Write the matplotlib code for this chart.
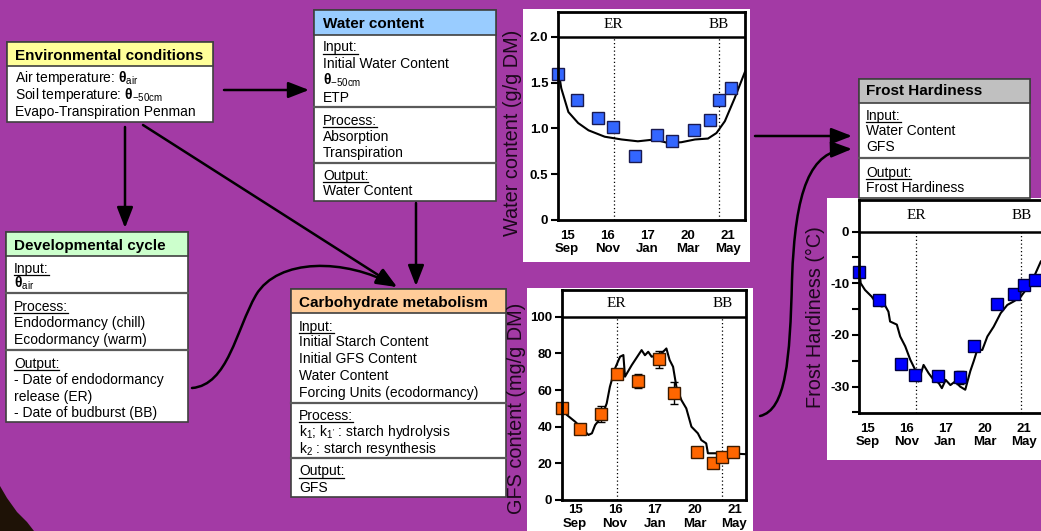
import matplotlib
matplotlib.use('Agg')
import matplotlib.pyplot as plt
from matplotlib.patches import Rectangle, FancyArrowPatch, Polygon
from matplotlib.path import Path

plt.rcParams['font.family'] = ['Liberation Sans', 'DejaVu Sans']
plt.rcParams['mathtext.fontset'] = 'custom'
plt.rcParams['mathtext.rm'] = 'Liberation Sans'
plt.rcParams['mathtext.it'] = 'Liberation Sans:italic'
plt.rcParams['mathtext.bf'] = 'Liberation Sans:bold'

W, H = 1041, 531
BG = '#a33aa5'

# ****Data (x = days since 1 Sep)****
tick_days = [14, 76, 138, 200, 262]
tick_labels = ['15\nSep', '16\nNov', '17\nJan', '20\nMar', '21\nMay']

water_obs_day = [0.5, 30, 62, 85, 119, 152, 175, 210, 234, 248, 266]
water_obs = [1.60, 1.31, 1.11, 1.02, 0.70, 0.93, 0.86, 0.98, 1.09, 1.31, 1.44]
water_sim_day = [0, 5, 16, 31, 47, 72, 98, 123, 149, 170, 190, 211, 231, 244, 257, 272, 283, 288]
water_sim = [1.67, 1.44, 1.18, 1.06, 0.98, 0.91, 0.88, 0.86, 0.88, 0.84, 0.85, 0.88, 0.89, 0.95,
             1.08, 1.33, 1.53, 1.62]
water_er, water_bb = 86, 248

gfs_obs_day = [-6.6, 21.8, 54.3, 78.6, 112, 144.7, 168, 203.6, 229, 243, 259.4]
gfs_obs = [50.0, 38.5, 46.9, 68.6, 64.9, 76.7, 58.2, 26.4, 20.0, 23.3, 26.4]
gfs_err = [0, 0, 4.5, 0, 4, 4.8, 6, 0, 0, 0, 0]
gfs_sim_day = [-6.6, 1, 14, 27, 34.6, 40, 45, 55.4, 63, 68, 76, 83.8, 89, 91.5, 102, 117.4, 122.6,
               127.7, 133, 143, 151, 156, 161, 166.4, 171.6, 179.4, 187, 195, 205, 210.4, 218,
               220.7, 230, 250, 280]
gfs_sim = [50, 46.4, 42.7, 38.2, 35.5, 36.4, 40.9, 45.5, 52.7, 61.8, 71.8, 78.2, 79.1, 67.3, 73.6,
           81.8, 79, 80.9, 78.2, 79.1, 80.9, 82.7, 76.4, 72.7, 61.8, 54.5, 50, 40, 36.4, 32.7, 30.9,
           25.5, 25.5, 25.5, 25]
gfs_er, gfs_bb = 78.6, 243

frost_obs_day = [1.3, 32, 66.5, 90, 126, 160, 183.6, 220, 246.7, 261.5, 279.5]
frost_obs = [-7.9, -13.3, -25.6, -27.7, -27.9, -28.2, -22.1, -14.0, -12.1, -10.4, -9.3]
frost_err = [0, 0, 0, 0, 0, 1.3, 0, 0, 0, 0, 0]
frost_sim_day = [1.3, 3.5, 10.3, 21, 30, 37, 42, 47.4, 50, 60.7, 66, 74, 82, 90, 95, 103, 111, 119,
                 127, 132, 138, 145.5, 153, 161, 169, 177, 182.6, 188, 196, 204, 214, 225, 235.6,
                 246, 256.8, 267.4, 278, 288.6]
frost_sim = [-7.4, -10, -11.3, -12.6, -14.2, -14.5, -14.3, -15.5, -17.4, -18, -20.3, -22.2, -24.8,
             -26.8, -29, -25.8, -27.4, -28.7, -29.3, -30.3, -28.7, -29.7, -29, -30, -30.6, -27,
             -25, -22.9, -22.9, -20.3, -18.4, -15.8, -14.2, -13.5, -12.6, -10.9, -8.7, -5.8]
frost_er, frost_bb = 91, 258

fig = plt.figure(figsize=(W / 100, H / 100), dpi=100)
fig.patch.set_facecolor(BG)
bg = fig.add_axes([0, 0, 1, 1])
bg.set_xlim(0, W)
bg.set_ylim(H, 0)
bg.axis('off')

# dark corner bottom left
bg.add_patch(Polygon([(0, 486), (7, 498), (17, 512), (27, 522), (34, 531), (0, 531)],
                     closed=True, fc='#1e1206', ec='none'))

underlined = []


def draw_box(x0, x1, y0, y1, yh, color, title, title_y, tx, items, seps):
    bg.add_patch(Rectangle((x0, y0), x1 - x0, y1 - y0, fc='white', ec='#404040', lw=1.2, zorder=2))
    bg.add_patch(Rectangle((x0, y0), x1 - x0, yh - y0, fc=color, ec='#404040', lw=1.2, zorder=2))
    bg.text(tx, title_y + 5, title, fontsize=11, fontweight='bold', va='baseline', zorder=3)
    for s in seps:
        bg.plot([x0, x1], [s, s], color='#5a5a5a', lw=1.6, zorder=3)
    for text, y, ul in items:
        t = bg.text(tx, y + 5, text, fontsize=10, va='baseline', zorder=3)
        if ul:
            underlined.append(t)


draw_box(7, 213, 42, 122, 66, '#ffff99', 'Environmental conditions', 55, 15,
         [('Air temperature: $\\mathbf{θ}_{\\mathrm{air}}$', 77, False),
          ('Soil temperature: $\\mathbf{θ}_{\\mathrm{-50cm}}$', 94, False),
          ('Evapo-Transpiration Penman', 111, False)], [])

draw_box(314, 496, 10, 201, 35, '#99ccff', 'Water content', 23, 323,
         [('Input:', 46.5, True), ('Initial Water Content', 63, False),
          ('$\\mathbf{θ}_{\\mathrm{-50cm}}$', 80, False), ('ETP', 96.5, False),
          ('Process:', 120, True), ('Absorption', 136, False), ('Transpiration', 152, False),
          ('Output:', 175, True), ('Water Content', 190, False)], [107, 163])

draw_box(6, 188, 232, 422, 256, '#ccffcc', 'Developmental cycle', 245, 14,
         [('Input:', 267.5, True), ('$\\mathbf{θ}_{\\mathrm{air}}$', 283, False),
          ('Process:', 306, True), ('Endodormancy (chill)', 322.5, False),
          ('Ecodormancy (warm)', 339, False),
          ('Output:', 363, True), ('- Date of endodormancy', 379, False),
          ('release (ER)', 395.5, False), ('- Date of budburst (BB)', 411.5, False)], [293, 350])

draw_box(291, 506, 289, 497, 313, '#ffcc99', 'Carbohydrate metabolism', 301.5, 299,
         [('Input:', 325.5, True), ('Initial Starch Content', 341.5, False),
          ('Initial GFS Content', 358, False), ('Water Content', 375.5, False),
          ('Forcing Units (ecodormancy)', 392.5, False),
          ('Process:', 415, True), ('k$_1$; k$_{1\'}$ : starch hydrolysis', 431, False),
          ('k$_2$ : starch resynthesis', 448, False),
          ('Output:', 470.5, True), ('GFS', 486.5, False)], [403, 458])

draw_box(859, 1030, 79, 198, 103, '#c0c0c0', 'Frost Hardiness', 90, 866,
         [('Input:', 115, True), ('Water Content', 130, False), ('GFS', 146, False),
          ('Output:', 171.5, True), ('Frost Hardiness', 187.5, False)], [158])

# white panels behind charts
bg.add_patch(Rectangle((523, 9), 227, 253, fc='white', ec='none', zorder=1))
bg.add_patch(Rectangle((527, 288), 226, 250, fc='white', ec='none', zorder=1))
bg.add_patch(Rectangle((827, 198), 220, 262, fc='white', ec='none', zorder=1))

# ****Arrows****
ast = '-|>,head_length=0.9,head_width=0.35'


def arrow(p0, p1):
    bg.add_patch(FancyArrowPatch(p0, p1, arrowstyle=ast, mutation_scale=14, lw=1.8,
                                 color='black', shrinkA=0, shrinkB=0, zorder=4))


arrow((224, 90), (309, 90))
arrow((125, 127), (125, 228))
arrow((143, 125), (397, 287))
arrow((416, 203), (416, 286))
arrow((755, 136), (852, 136))

curve1 = Path([(192, 388), (228, 385), (236, 330), (256, 295), (278, 258), (345, 258), (397, 287)],
              [Path.MOVETO, Path.CURVE4, Path.CURVE4, Path.CURVE4, Path.CURVE4, Path.CURVE4, Path.CURVE4])
bg.add_patch(FancyArrowPatch(path=curve1, arrowstyle=ast, mutation_scale=14, lw=1.8,
                             color='black', zorder=4))
curve2 = Path([(760, 416), (786, 410), (790, 360), (792, 280), (795, 190), (810, 150), (852, 149)],
              [Path.MOVETO, Path.CURVE4, Path.CURVE4, Path.CURVE4, Path.CURVE4, Path.CURVE4, Path.CURVE4])
bg.add_patch(FancyArrowPatch(path=curve2, arrowstyle=ast, mutation_scale=14, lw=1.8,
                             color='black', zorder=4))


# ****Charts****
def chart(left, top, right, bottom, xlim, ylim, band, yticks, yticklabels, er, bb, xpad=7):
    ax = fig.add_axes([left / W, 1 - bottom / H, (right - left) / W, (bottom - top) / H])
    ax.set_xlim(*xlim)
    ax.set_ylim(*ylim)
    for sp in ax.spines.values():
        sp.set_linewidth(2)
    ax.axhline(band, color='black', lw=1.8)
    ax.vlines([er, bb], ylim[0], band, colors='black', linestyles=(0, (1, 2)), lw=0.9)
    yb = (band + ylim[1]) / 2
    ax.text(er, yb, 'ER', family='Liberation Serif', fontsize=11, ha='center', va='center')
    ax.text(bb, yb, 'BB', family='Liberation Serif', fontsize=11, ha='center', va='center')
    ax.set_xticks(tick_days)
    ax.set_xticklabels(tick_labels, fontweight='bold', fontsize=9.5, linespacing=1.15)
    ax.set_yticks(yticks)
    ax.set_yticklabels(yticklabels, fontweight='bold', fontsize=9.5)
    ax.tick_params(axis='x', length=0, pad=xpad)
    ax.tick_params(axis='y', length=5, width=1.5, pad=2)
    return ax


ax1 = chart(558, 12, 745, 220, (0, 288), (0, 2.273), 2.0,
            [0, 0.5, 1.0, 1.5, 2.0], ['0', '0.5', '1.0', '1.5', '2.0'], water_er, water_bb)
ax1.plot(water_sim_day, water_sim, color='black', lw=1.5, clip_on=True)
ax1.plot(water_obs_day, water_obs, 's', ms=8, mfc='#3366ff', mec='#1a1a50', mew=1, clip_on=False)

ax2 = chart(562, 290, 746, 500, (-6.6, 280), (0, 114.6), 100,
            [0, 20, 40, 60, 80, 100], ['0', '20', '40', '60', '80', '100'], gfs_er, gfs_bb, xpad=3)
ax2.plot(gfs_sim_day, gfs_sim, color='black', lw=1.5)
ax2.errorbar(gfs_obs_day, gfs_obs, yerr=gfs_err, fmt='none', ecolor='black', capsize=3, lw=1)
ax2.plot(gfs_obs_day, gfs_obs, 's', ms=8, mfc='#ff6600', mec='#3a1a00', mew=1, clip_on=False)

ax3 = chart(859, 200, 1048, 413, (0.8, 300), (-35.1, 6.1), 0,
            [0, -10, -20, -30], ['0', '-10', '-20', '-30'], frost_er, frost_bb)
ax3.set_yticks([-5, -15, -25, -35], minor=True)
ax3.tick_params(axis='y', which='minor', length=5, width=1.5)
ax3.plot(frost_sim_day, frost_sim, color='black', lw=1.5)
ax3.errorbar(frost_obs_day, frost_obs, yerr=frost_err, fmt='none', ecolor='black', capsize=3, lw=1)
ax3.plot(frost_obs_day, frost_obs, 's', ms=8, mfc='#0000ff', mec='#000040', mew=1, clip_on=False)

# axis titles on the purple background
lab = dict(fontsize=14.3, color='#1c081c', rotation=90, ha='center', va='top')
bg.text(513, 30, 'Water content (g/g DM)', **lab)
bg.text(516, 303, 'GFS content (mg/g DM)', **lab)
bg.text(815, 226, 'Frost Hardiness (°C)', **lab)

# underline the section labels
fig.canvas.draw()
r = fig.canvas.get_renderer()
inv = bg.transData.inverted()
for t in underlined:
    bb_ = t.get_window_extent(r)
    (xa, _), (xb, _) = inv.transform([(bb_.x0, bb_.y0), (bb_.x1, bb_.y1)])
    yb_ = t.get_position()[1] + 2
    bg.plot([xa, xb], [yb_, yb_], color='black', lw=0.9, zorder=3)

fig.savefig('out.png', dpi=100, facecolor=BG)
